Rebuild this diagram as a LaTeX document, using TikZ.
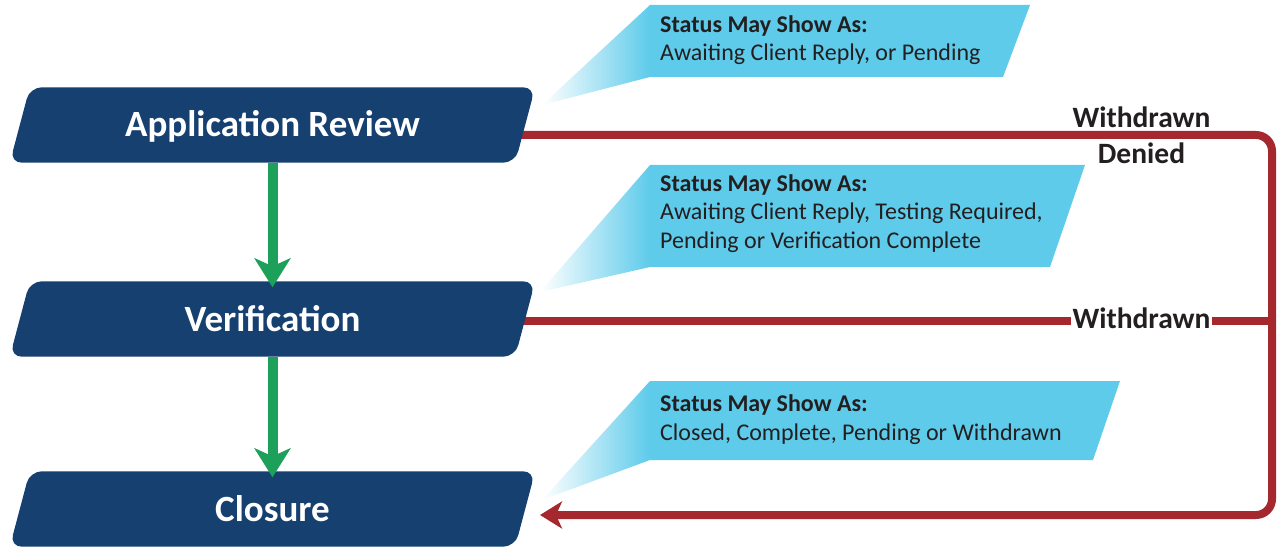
\documentclass[tikz,border=0pt]{standalone}
\usepackage{fontspec}
\setmainfont{Carlito}
\usetikzlibrary{arrows.meta,calc}
\definecolor{dblue}{RGB}{21,64,112}
\definecolor{lblue}{RGB}{94,203,235}
\definecolor{fgreen}{RGB}{29,161,90}
\definecolor{fred}{RGB}{164,40,46}
\definecolor{tgray}{RGB}{35,31,32}
\pgfdeclarelayer{back}
\pgfdeclarelayer{mid}
\pgfsetlayers{back,mid,main}
\begin{document}
\begin{tikzpicture}[x=1pt,y=-1pt,
  boxtext/.style={inner sep=0pt, minimum width=525pt, minimum height=75pt,
    text height=24pt, text depth=0pt, text=white,
    font=\bfseries\fontsize{37}{44}\selectfont},
  calltext/.style={inner sep=0pt, anchor=west, align=left, text=tgray,
    font=\fontsize{24}{28.5}\selectfont},
  lbl/.style={font=\bfseries\fontsize{29.5}{33}\selectfont, text=tgray,
    inner sep=1.5pt, fill=white, anchor=base},
  flowarrow/.style={fgreen, line width=10pt,
    -{Stealth[length=29pt,width=36pt,inset=8pt]}},
  redline/.style={fred, line width=8pt},
  callbody/.style={fill=lblue},
  calltail/.style={left color=white, right color=lblue}
]
\useasboundingbox (0,0) rectangle (1283,548);

% step boxes (text)
\node[boxtext] (ar) at (272.5,125) {Application Review};
\node[boxtext] (vf) at (272.5,319) {Verification};
\node[boxtext] (cl) at (272.5,509) {Closure};

% box shapes
\begin{pgfonlayer}{mid}
\foreach \n in {ar,vf,cl}
  \fill[dblue, rounded corners=12pt]
    ([xshift=20pt]\n.north west) -- (\n.north east)
    -- ([xshift=-20pt]\n.south east) -- (\n.south west) -- cycle;
\end{pgfonlayer}

% callouts
\node[calltext] (s1) at (660,40) {\textbf{Status May Show As:}\\Awaiting Client Reply, or Pending};
\node[calltext] (s2) at (660,213.5) {\textbf{Status May Show As:}\\Awaiting Client Reply, Testing Required,\\Pending or Verification Complete};
\node[calltext] (s3) at (660,419.5) {\textbf{Status May Show As:}\\Closed, Complete, Pending or Withdrawn};

\begin{pgfonlayer}{back}
\fill[callbody] (650,5) -- (1030,5) -- (1003,77) -- (650,77) -- cycle;
\shade[calltail] (650,5) -- (542,105) -- (650,77) -- cycle;
\fill[callbody] (650,165) -- (1085,165) -- (1050,267) -- (650,267) -- cycle;
\shade[calltail] (650,165) -- (540,292) -- (650,267) -- cycle;
\fill[callbody] (650,381) -- (1120,381) -- (1093,460) -- (650,460) -- cycle;
\shade[calltail] (650,381) -- (542,500) -- (650,460) -- cycle;

% red connectors
\coordinate (tr) at (1272,135);
\coordinate (mr) at (1272,321);
\coordinate (br) at (1272,515);
\coordinate (cin) at (540,515);
\draw[redline, rounded corners=16pt, -{Stealth[length=22pt,width=27pt,inset=6pt]}]
  ([xshift=-20pt,yshift=-10pt]ar.east) -- (tr) -- (br) -- (cin);
\draw[redline] ([xshift=-20pt,yshift=-2pt]vf.east) -- (mr);
\end{pgfonlayer}

% green flow arrows
\draw[flowarrow] (ar.south) -- ([yshift=-6pt]vf.north);
\draw[flowarrow] (vf.south) -- ([yshift=-6pt]cl.north);

% labels
\node[lbl] (w1) at (1141.5,128) {Withdrawn};
\node[lbl, fill=none] (dn) at (1141.5,164) {Denied};
\node[lbl] (w2) at (1141.5,328) {Withdrawn};
\end{tikzpicture}
\end{document}
